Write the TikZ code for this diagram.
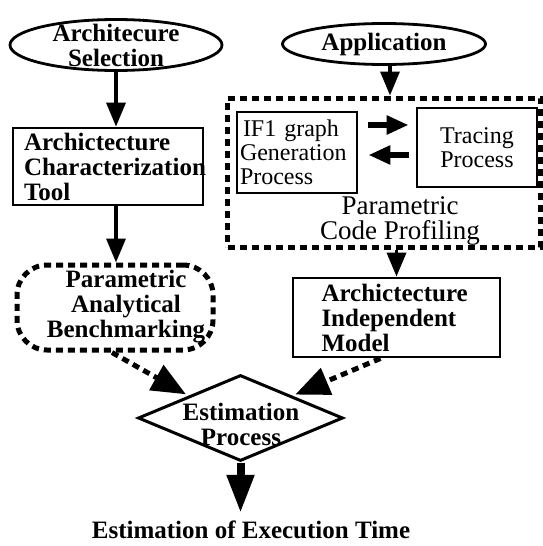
\documentclass[tikz,border=0pt]{standalone}
\usepackage{fontspec}
\setmainfont{Liberation Serif}
\usetikzlibrary{arrows.meta,shapes.geometric,calc}
\begin{document}
\begin{tikzpicture}[x=1pt,y=-1pt,
  every node/.style={font=\fontsize{25}{25}\selectfont\bfseries, inner sep=0pt},
  reg/.style={font=\fontsize{27}{25}\selectfont},
  bx/.style={draw, line width=2.8pt, rectangle},
  inbx/.style={draw, line width=2.8pt, rectangle, font=\fontsize{24}{24}\selectfont},
  ell/.style={draw, ellipse, line width=2.8pt},
  dsh/.style={draw, line width=5pt, dash pattern=on 7pt off 5pt},
  arr/.style={line width=3.5pt, -{Triangle[length=24pt,width=19pt]}},
  harr/.style={line width=6pt, -{Triangle[length=22pt,width=18pt]}},
  darr/.style={line width=5pt, dash pattern=on 7pt off 5pt, -{Triangle[length=34pt,width=28pt]}},
  barr/.style={line width=8pt, -{Triangle[length=38pt,width=26pt]}}]
\useasboundingbox (0,0) rectangle (543,546);
% top ellipses
\node[ell, minimum width=212pt, minimum height=51pt] (sel) at (116,45) {};
\node[align=center] (selt) at (sel.center) {Architecure\\Selection};
\node[ell, minimum width=203pt, minimum height=41pt] (app) at (384,44) {};
\node (appt) at (app.center) {Application};
% left column
\node[bx, minimum width=190pt, minimum height=77pt, text width=176pt, align=left] (act) at (108,166.5) {\hspace*{4pt}\mbox{Archictecture}\\\hspace*{4pt}\mbox{Characterization}\\\hspace*{4pt}\mbox{Tool}};
\node[dsh, rounded corners=30pt, minimum width=196pt, minimum height=85pt] (pab) at (115,307.5) {};
\node[align=center] (pabt) at (126,307) {Parametric\\Analytical\\Benchmarking};
% profiling block
\node[dsh, minimum width=313pt, minimum height=149pt] (prof) at (384,172.5) {};
\node[inbx, minimum width=120pt, minimum height=81pt, text width=114pt, align=left] (if1) at (297,152.5) {\hspace*{3pt}IF1 graph\\Generation\\Process};
\node[inbx, minimum width=120pt, minimum height=79pt, align=center] (trc) at (477,147.5) {Tracing\\Process};
\node[reg, align=center] (proft) at (400,221) {Parametric\\Code Profiling};
% right column
\node[bx, minimum width=207pt, minimum height=79pt, text width=150pt, align=left] (aim) at (396.5,317.5) {Archictecture\\Independent\\Model};
% estimation
\node[diamond, draw, line width=3pt, minimum width=205pt, minimum height=86pt] (est) at (240.5,418) {};
\node[align=center] (estt) at (241,424) {Estimation\\Process};
\node (out) at (251,530) {Estimation of Execution Time};
% connectors
\coordinate (appb) at ($(app.south)+(6,0)$);
\draw[arr] (sel.south) -- (sel.south |- act.north);
\draw[arr] (act.south -| sel.south) -- (pab.north -| sel.south);
\draw[arr] (appb) -- (appb |- prof.north);
\draw[arr] (aim.north |- prof.south) -- (aim.north);
\draw[harr, shorten <=10pt, shorten >=7pt] ([yshift=27.5pt]if1.east) -- ([yshift=27.5pt]if1.east -| trc.west);
\draw[harr, shorten <=7pt, shorten >=10pt] ([yshift=-2.5pt]if1.east -| trc.west) -- ([yshift=-2.5pt]if1.east);
\draw[darr, shorten >=3pt] ([xshift=-3pt]pab.south) -- (est.north west);
\draw[darr, shorten >=3pt] ([xshift=-16pt]aim.south) -- (est.north east);
\draw[barr] (est.south) -- ($(est.south |- out.north)+(0,-8)$);
\end{tikzpicture}
\end{document}
